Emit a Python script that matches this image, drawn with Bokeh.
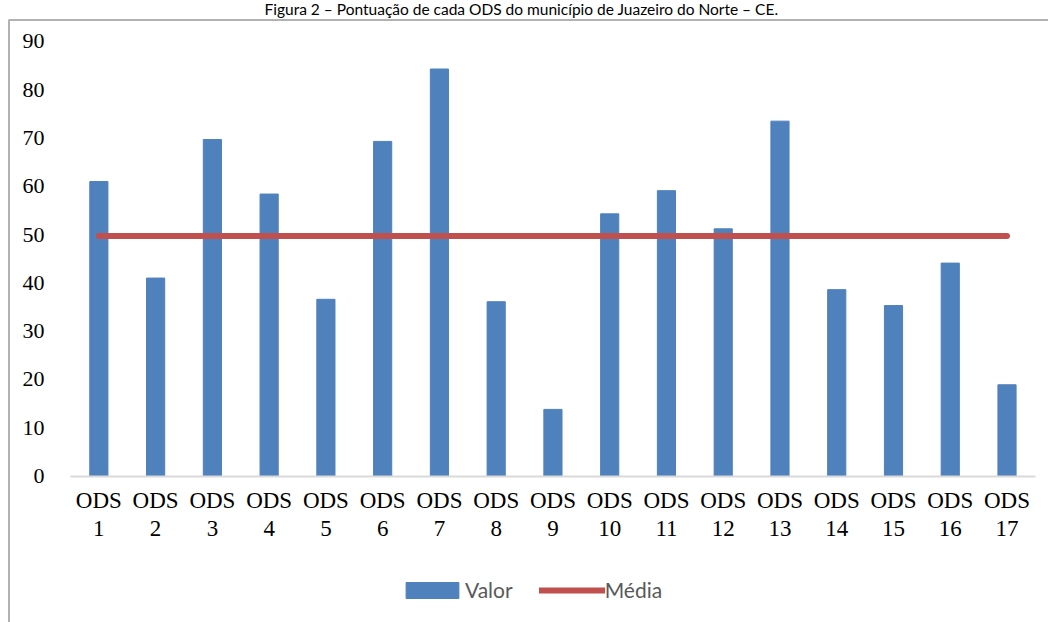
from bokeh.plotting import figure
from bokeh.models import Legend, LegendItem, Range1d, FixedTicker, BoxAnnotation, Label
from bokeh.embed import file_html
from bokeh.resources import INLINE

titulo = "Figura 2 – Pontuação de cada ODS do município de Juazeiro do Norte – CE."
ods = [1, 2, 3, 4, 5, 6, 7, 8, 9, 10, 11, 12, 13, 14, 15, 16, 17]
rotulos = ["ODS\n1", "ODS\n2", "ODS\n3", "ODS\n4", "ODS\n5", "ODS\n6", "ODS\n7", "ODS\n8", "ODS\n9",
           "ODS\n10", "ODS\n11", "ODS\n12", "ODS\n13", "ODS\n14", "ODS\n15", "ODS\n16", "ODS\n17"]
valores = [61.0, 41.0, 69.7, 58.4, 36.6, 69.3, 84.3, 36.1, 13.8, 54.3, 59.1, 51.2, 73.5, 38.6, 35.3, 44.1, 18.9]
media = [49.7, 49.7, 49.7, 49.7, 49.7, 49.7, 49.7, 49.7, 49.7, 49.7, 49.7, 49.7, 49.7, 49.7, 49.7, 49.7, 49.7]
y_ticks = [0, 10, 20, 30, 40, 50, 60, 70, 80, 90]

BLUE = "#4F81BD"
RED = "#C0504D"

p = figure(x_range=Range1d(-0.733, 17.731), y_range=Range1d(-30.34, 98.49),
           width=1048, height=622, output_backend="svg", toolbar_location=None,
           min_border=0)
p.outline_line_color = None
p.grid.grid_line_color = None

# chart box (left and top edges visible, the rest lies outside the window)
box = BoxAnnotation(left=-0.5835, right=40, top=94.45, bottom=-60,
                    fill_alpha=0, line_color="#000000", line_width=2, level="overlay")
p.add_layout(box)

p.add_layout(Label(x=8.446, y=96.83, text=titulo, text_align="center", text_baseline="alphabetic",
                   text_font="Lato", text_font_size="15.5px", text_color="#000000"))

r_bar = p.vbar(x=ods, top=valores, width=0.32, fill_color=BLUE, line_color=BLUE)
r_line = p.line(x=ods, y=media, line_width=6, line_color=RED, line_cap="round")

p.yaxis.fixed_location = 0.5
p.yaxis.ticker = FixedTicker(ticks=y_ticks)
p.yaxis.axis_line_color = None
p.yaxis.major_tick_line_color = None
p.yaxis.minor_tick_line_color = None
p.yaxis.major_label_standoff = 20
p.yaxis.major_label_text_font = "Liberation Serif"
p.yaxis.major_label_text_font_size = "22px"
p.yaxis.major_label_text_color = "#000000"

p.xaxis.fixed_location = 0
p.xaxis.bounds = (0.5, 17.5)
p.xaxis.ticker = FixedTicker(ticks=ods)
p.xaxis.major_label_overrides = {k: r for k, r in zip(ods, rotulos)}
p.xaxis.axis_line_color = "#D9D9D9"
p.xaxis.axis_line_width = 2
p.xaxis.major_tick_line_color = None
p.xaxis.minor_tick_line_color = None
p.xaxis.major_label_standoff = 6
p.xaxis.major_label_text_font = "Liberation Serif"
p.xaxis.major_label_text_font_size = "23px"
p.xaxis.major_label_text_color = "#000000"
p.xaxis.major_label_text_line_height = 1.1

legend = Legend(items=[LegendItem(label="Valor", renderers=[r_bar]),
                       LegendItem(label="Média", renderers=[r_line])],
                orientation="horizontal", location=(399, 20),
                glyph_width=66, glyph_height=20, label_standoff=0, spacing=26,
                label_text_font="Lato", label_text_font_size="21px", label_text_color="#595959",
                border_line_color=None, background_fill_alpha=0, margin=0, padding=5)
p.add_layout(legend, "center")

open("out.html", "w").write(file_html(p, INLINE))
